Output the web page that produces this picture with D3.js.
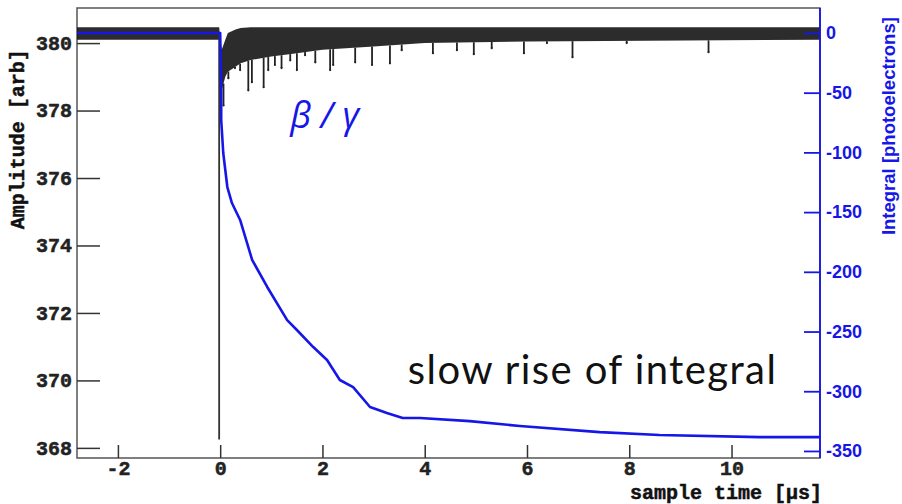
<!DOCTYPE html>
<html>
<head>
<style>
  body { margin: 0; background: #fff; }
  svg { display: block; }
</style>
</head>
<body>
<svg width="902" height="504"></svg>
<script src="https://d3js.org/d3.v7.min.js"></script>
<script>
// waveform: noise band envelope (time in µs, amplitude in arb)
const bandT  = [-2.8, -0.02, 0.03, 0.1, 0.15, 0.3, 0.4, 0.6, 1.0, 1.5, 2.0, 3.0, 4.0, 6.0, 11.73];
const bandHi = [380.47, 380.47, 379.8, 380.1, 380.3, 380.4, 380.45, 380.47, 380.47, 380.47, 380.47, 380.47, 380.47, 380.47, 380.47];
const bandLo = [380.1, 380.1, 378.6, 379.0, 379.15, 379.3, 379.4, 379.5, 379.6, 379.7, 379.8, 379.9, 380.0, 380.05, 380.1];

// downward excursions after the trigger
const spikeT = [0.065, 0.16, 0.29, 0.39, 0.55, 0.62, 0.85, 0.94, 1.07, 1.2, 1.37, 1.5, 1.66, 1.86, 2.15, 2.21, 2.64, 2.97, 3.32, 3.55, 4.16, 4.63, 4.96, 5.31, 5.94, 6.39, 6.89, 7.95, 9.55];
const spikeV = [378.15, 378.96, 379.26, 379.2, 378.6, 378.84, 378.69, 379.2, 379.35, 379.26, 379.49, 379.2, 379.64, 379.43, 379.2, 379.35, 379.43, 379.35, 379.4, 379.79, 379.7, 379.79, 379.67, 379.85, 379.7, 380.0, 379.58, 380.0, 379.73];

// trigger pulse
const pulseT = -0.02;
const pulseBase = 380.3;
const pulseMin = 368.25;

// integral (photoelectrons)
const intT = [-2.8, 0, 0.02, 0.02, 0.06, 0.14, 0.23, 0.39, 0.625, 0.92, 1.31, 1.5, 1.82, 2.09, 2.34, 2.6, 2.93, 3.26, 3.57, 3.91, 4.88, 5.86, 7.42, 8.59, 10.55, 11.73];
const intV = [0, 0, -47.7, -72.9, -100.5, -129, -142.4, -156.6, -190, -212.7, -240.4, -248.7, -263, -273.9, -290.6, -296.5, -313.2, -318.3, -322.4, -322.4, -325, -329.1, -334.2, -336.7, -338.4, -338.4];

const xMajor = [-2, 0, 2, 4, 6, 8, 10];
const leftMajor = [368, 370, 372, 374, 376, 378, 380];
const rightMajor = [-350, -300, -250, -200, -150, -100, -50, 0];

const svg = d3.select("svg");
const x = d3.scaleLinear().domain([-2.8, 11.73]).range([77, 820]);
const yL = d3.scaleLinear().domain([367.7, 381.04]).range([458, 8]);
const yR = d3.scaleLinear().domain([-355.9, 20.9]).range([458, 8]);

const blue = "#1616e8";
const axisCol = "#333";

// frame
svg.append("rect")
    .attr("x", x(-2.8)).attr("y", yL(381.04))
    .attr("width", x(11.73) - x(-2.8)).attr("height", yL(367.7) - yL(381.04))
    .attr("fill", "none").attr("stroke", "#555").attr("stroke-width", 1.5);

// waveform band
const band = bandT.map((t, i) => ({t: t, hi: bandHi[i], lo: bandLo[i]}));
svg.append("path")
    .datum(band)
    .attr("d", d3.area().x(d => x(d.t)).y0(d => yL(d.lo)).y1(d => yL(d.hi)))
    .attr("fill", "#151515").attr("fill-opacity", 0.9);

// spikes
const lo = d3.scaleLinear().domain(bandT).range(bandLo);
const spikes = spikeT.map((t, i) => ({t: t, v: spikeV[i]}));
svg.append("g").selectAll("line")
    .data(spikes)
    .enter().append("line")
    .attr("x1", d => x(d.t)).attr("x2", d => x(d.t))
    .attr("y1", d => yL(lo(d.t))).attr("y2", d => yL(d.v))
    .attr("stroke", "#222").attr("stroke-width", 1.8);
svg.append("g").selectAll("circle")
    .data(spikes)
    .enter().append("circle")
    .attr("cx", d => x(d.t)).attr("cy", d => yL(d.v)).attr("r", 1.1)
    .attr("fill", "#222");

// trigger pulse
svg.append("line")
    .attr("x1", x(pulseT)).attr("x2", x(pulseT))
    .attr("y1", yL(pulseBase)).attr("y2", yL(pulseMin))
    .attr("stroke", "#333").attr("stroke-width", 1.8);

// integral
svg.append("path")
    .datum(intT.map((t, i) => ({t: t, v: intV[i]})))
    .attr("d", d3.line().x(d => x(d.t)).y(d => yR(d.v)))
    .attr("fill", "none").attr("stroke", blue).attr("stroke-width", 2.6)
    .attr("stroke-linejoin", "round");

// left axis
const gL = svg.append("g").attr("transform", "translate(" + x(-2.8) + ",0)");
gL.call(d3.axisLeft(yL).tickValues(d3.range(368, 381.01, 0.5)).tickSize(-13).tickFormat(""));
gL.call(d3.axisLeft(yL).tickValues(leftMajor).tickSize(-23).tickPadding(5).tickFormat(d => String(d)));
gL.selectAll("path.domain").remove();
gL.selectAll("line").attr("stroke", axisCol).attr("stroke-width", 1.5);
gL.selectAll("text").attr("font-family", "Liberation Mono").attr("font-weight", "bold")
    .attr("font-size", 20).attr("fill", "#222")
    .attr("stroke", "#222").attr("stroke-width", 0.5);

// bottom axis
const gB = svg.append("g").attr("transform", "translate(0," + yL(367.7) + ")");
gB.call(d3.axisBottom(x).tickValues(d3.range(-2.5, 11.51, 0.5)).tickSize(-7).tickFormat(""));
gB.call(d3.axisBottom(x).tickValues(xMajor).tickSize(-13).tickPadding(3).tickFormat(d => String(d)));
gB.selectAll("path.domain").remove();
gB.selectAll("line").attr("stroke", axisCol).attr("stroke-width", 1.5);
gB.selectAll("text").attr("font-family", "Liberation Mono").attr("font-weight", "bold")
    .attr("font-size", 20).attr("fill", "#222")
    .attr("stroke", "#222").attr("stroke-width", 0.5);

// right axis
const gR = svg.append("g").attr("transform", "translate(" + x(11.73) + ",0)");
gR.call(d3.axisRight(yR).tickValues(d3.range(-350, 20.01, 10)).tickSize(-9).tickFormat(""));
gR.call(d3.axisRight(yR).tickValues(rightMajor).tickSize(-16).tickPadding(6).tickFormat(d => String(d)));
gR.select("path.domain").remove();
gR.append("line").attr("y1", yR(20.9)).attr("y2", yR(-355.9))
    .attr("stroke", blue).attr("stroke-width", 2);
gR.selectAll("line").attr("stroke", blue).attr("stroke-width", 1.8);
gR.selectAll("text").attr("font-family", "Liberation Sans").attr("font-weight", "bold")
    .attr("font-size", 18).attr("fill", blue);

// axis titles
svg.append("text")
    .attr("transform", "translate(24," + yL(377.15) + ") rotate(-90)")
    .attr("text-anchor", "middle")
    .attr("font-family", "Liberation Mono").attr("font-weight", "bold").attr("font-size", 20)
    .attr("fill", "#111").attr("stroke", "#111").attr("stroke-width", 0.5)
    .text("Amplitude [arb]");

svg.append("text")
    .attr("x", 822).attr("y", 499)
    .attr("text-anchor", "end")
    .attr("font-family", "Liberation Mono").attr("font-weight", "bold").attr("font-size", 20)
    .attr("fill", "#111").attr("stroke", "#111").attr("stroke-width", 0.5)
    .text("sample time [µs]");

svg.append("text")
    .attr("transform", "translate(895," + yR(-78) + ") rotate(-90)")
    .attr("text-anchor", "middle")
    .attr("font-family", "Liberation Sans").attr("font-weight", "bold").attr("font-size", 18.5)
    .attr("fill", blue)
    .text("Integral [photoelectrons]");

// annotations
svg.append("text")
    .attr("x", x(1.37)).attr("y", yL(377.47))
    .attr("font-family", "Open Sans").attr("font-style", "italic").attr("font-size", 36)
    .attr("fill", blue)
    .text("β / γ");

svg.append("text")
    .attr("x", x(3.67)).attr("y", yL(369.88))
    .attr("font-family", "Lato").attr("font-size", 40)
    .attr("fill", "#111")
    .attr("textLength", 368).attr("lengthAdjust", "spacing")
    .text("slow rise of integral");
</script>
</body>
</html>
